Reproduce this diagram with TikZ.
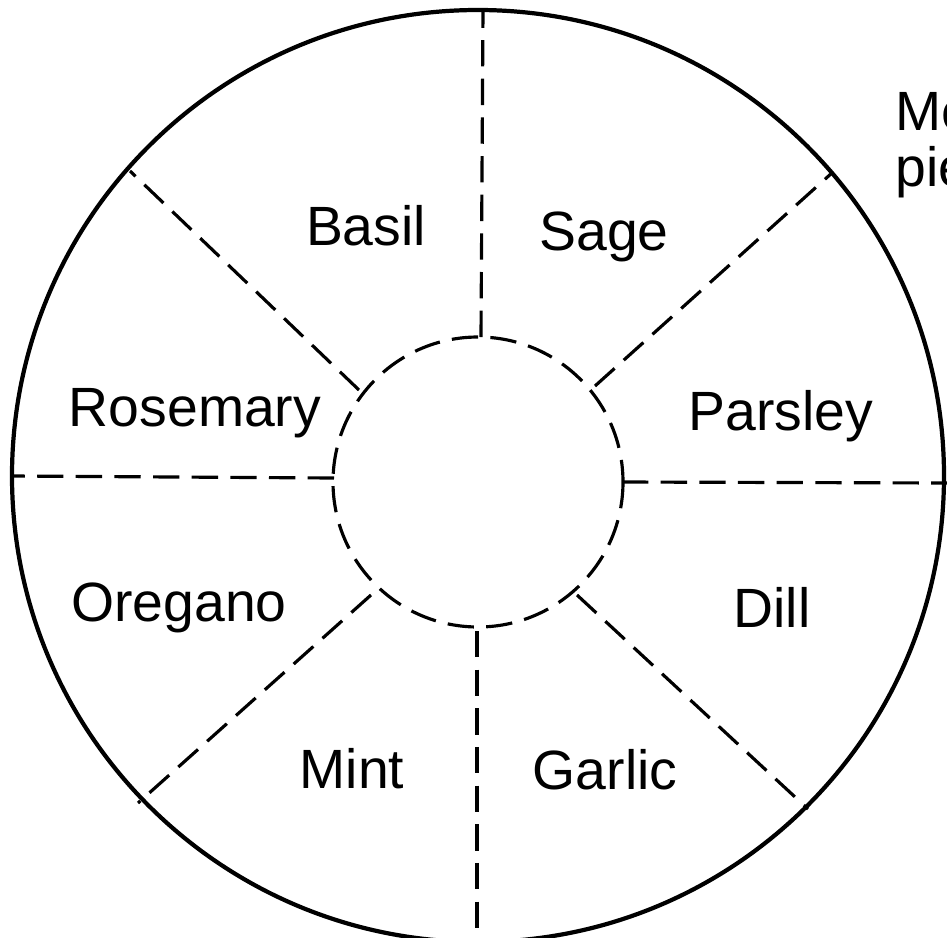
\documentclass[tikz,border=0pt]{standalone}
\usepackage{fontspec}
\setmainfont{Liberation Sans}

\begin{document}
\begin{tikzpicture}[x=0.02cm, y=-0.02cm,
    rim/.style={line width=2.4pt},                        % solid outer wheel
    spoke/.style={line width=1.8pt, dash pattern=on 15pt off 7pt},
    herb/.style={font=\fontsize{31.5}{38}\selectfont, inner sep=0pt, anchor=base},
  ]
  \useasboundingbox (0,0) rectangle (947,937);
  \clip (0,0) rectangle (947,937);

  % wheel and hub
  \coordinate (centre) at (478,476);
  \coordinate (hub)    at (478,482);
  \draw[rim]   (centre) circle [radius=466];
  \draw[spoke] (hub)    circle [radius=145];

  % spokes, hub to rim
  \draw[spoke] (481,337) -- (483,10);
  \draw[spoke] (595,386) -- (833,172);
  \draw[spoke] (622,482) -- (947,483);
  \draw[spoke] (577,595) -- (808,809);
  \draw[spoke] (477,631) -- (477,937);
  \draw[spoke] (371,595) -- (138,803);
  \draw[spoke] (334,478) -- (12,476);
  \draw[spoke] (359,390) -- (130,171);

  % beds
  \node[herb] (basil)    at (366,245) {Basil};
  \node[herb] (sage)     at (604,250) {Sage};
  \node[herb] (rosemary) at (195,426) {Rosemary};
  \node[herb] (parsley)  at (781,430) {Parsley};
  \node[herb] (oregano)  at (179,621) {Oregano};
  \node[herb] (dill)     at (772,627) {Dill};
  \node[herb] (mint)     at (352,788) {Mint};
  \node[herb] (garlic)   at (605,789) {Garlic};

  % note at the edge, cut off as in the source
  \node[herb, anchor=base west] (noteA) at (895,130) {Me};
  \node[herb, anchor=base west] (noteB) at (895,186) {pie};
\end{tikzpicture}
\end{document}
